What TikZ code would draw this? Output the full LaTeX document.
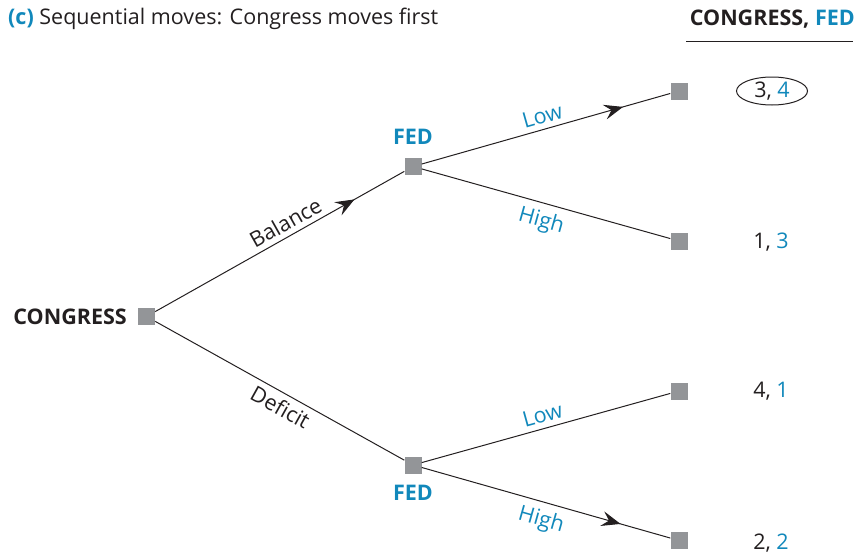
\documentclass[tikz,border=0pt]{standalone}
\usepackage{fontspec}
\setmainfont{Open Sans}
\usetikzlibrary{arrows.meta,decorations.markings,shapes.geometric}
\definecolor{fedblue}{HTML}{1188BB}
\definecolor{ink}{HTML}{231F20}
\definecolor{nodegray}{HTML}{939598}
\newcommand\labelfont{\fontsize{21.5}{26}\selectfont}
\tikzset{
  decision/.style={rectangle, fill=nodegray, minimum size=17pt, inner sep=0pt},
  branch/.style={draw=ink, line width=1pt},
  flow/.style={postaction={decorate}, decoration={markings,
      mark=at position #1 with {\arrow{Stealth[length=19pt,width=15pt,inset=7pt]}}}},
  player/.style={font=\labelfont\bfseries, text=fedblue, inner sep=0pt},
  movelabel/.style={font=\labelfont, sloped, inner sep=5pt},
  payoff/.style={font=\labelfont, text=ink, inner sep=3pt},
}
\begin{document}
\begin{tikzpicture}[x=1pt, y=-1pt]
\useasboundingbox (0,0) rectangle (861,557);

% title and payoff header
\node[anchor=west, inner sep=0pt, font=\labelfont, text=ink] (title) at (8,19)
  {\textcolor{fedblue}{\bfseries (c)} Sequential moves: Congress moves first};
\node[anchor=east, inner sep=0pt, font=\labelfont\bfseries, text=ink] (header) at (855,19)
  {CONGRESS, \textcolor{fedblue}{FED}};
\coordinate (ruleL) at (686,41);
\coordinate (ruleR) at (853,41);
\draw[ink, line width=1pt] (ruleL) -- (ruleR);

% decision nodes
\node[decision] (root) at (146.5,316.5) {};
\node[decision] (fedA) at (413,166.5) {};
\node[decision] (fedB) at (413,465) {};
\node[decision] (t1) at (679,91) {};
\node[decision] (t2) at (679,241) {};
\node[decision] (t3) at (679,391) {};
\node[decision] (t4) at (679,540.5) {};

% player labels
\node[player, text=ink, anchor=east] (congress) at (127,317) {CONGRESS};
\node[player] (fedAlabel) at (413,137) {FED};
\node[player] (fedBlabel) at (413,493) {FED};

% branches
\draw[branch, flow=0.8] (root) -- node[movelabel, above, pos=0.55, text=ink] {Balance} (fedA);
\draw[branch] (root) -- node[movelabel, below, pos=0.53, text=ink] {Deficit} (fedB);
\draw[branch, flow=0.81] (fedA) -- node[movelabel, above, pos=0.5, text=fedblue] {Low} (t1);
\draw[branch] (fedA) -- node[movelabel, below, pos=0.5, inner sep=7pt, text=fedblue] {High} (t2);
\draw[branch] (fedB) -- node[movelabel, above, pos=0.5, text=fedblue] {Low} (t3);
\draw[branch, flow=0.8] (fedB) -- node[movelabel, below, pos=0.5, inner sep=7pt, text=fedblue] {High} (t4);

% payoffs
\node[payoff, draw=ink, line width=1pt, ellipse, inner sep=0pt, minimum width=71pt, minimum height=28pt] (p1) at (772,91) {3, \textcolor{fedblue}{4}};
\node[payoff] (p2) at (771,242) {1, \textcolor{fedblue}{3}};
\node[payoff] (p3) at (771,391) {4, \textcolor{fedblue}{1}};
\node[payoff] (p4) at (771,543) {2, \textcolor{fedblue}{2}};
\end{tikzpicture}
\end{document}
